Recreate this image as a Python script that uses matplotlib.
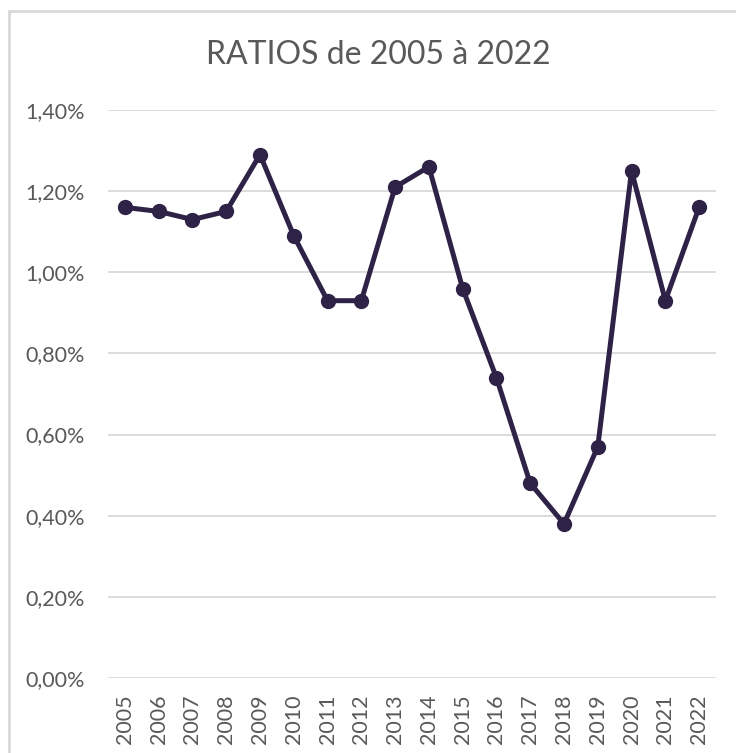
import matplotlib
matplotlib.use("Agg")
import matplotlib.pyplot as plt
from matplotlib.patches import Rectangle
from matplotlib.ticker import FuncFormatter, MultipleLocator

years = ["2005", "2006", "2007", "2008", "2009", "2010", "2011", "2012", "2013",
         "2014", "2015", "2016", "2017", "2018", "2019", "2020", "2021", "2022"]
ratios = [1.16, 1.15, 1.13, 1.15, 1.29, 1.09, 0.93, 0.93, 1.21,
          1.26, 0.96, 0.74, 0.48, 0.38, 0.57, 1.25, 0.93, 1.16]
title = "RATIOS de 2005 à 2022"

W, H = 736, 753
fig = plt.figure(figsize=(W / 100, H / 100), dpi=100)
plt.rcParams['font.family'] = ['Lato', 'DejaVu Sans']

# chart border
fig.patches.append(Rectangle((9 / W, -0.05), 1.1, 1 - 11 / H + 0.05,
                             transform=fig.transFigure, fill=False,
                             edgecolor="#d9d9d9", linewidth=2))

ax = fig.add_axes([108 / W, 1 - 678 / H, (716 - 108) / W, (678 - 110) / H])
x = list(range(len(years)))
ax.plot(x, ratios, color="#2e2347", linewidth=3.6, marker="o",
        markersize=10, solid_joinstyle="round", zorder=3)
ax.set_xlim(-0.5, len(years) - 0.5)
ax.set_ylim(0, 1.4)
ax.yaxis.set_major_locator(MultipleLocator(0.2))
ax.yaxis.set_major_formatter(FuncFormatter(lambda v, p: f"{v:.2f}%".replace(".", ",")))
ax.set_xticks(x)
ax.set_xticklabels(years, rotation=90)
ax.grid(axis="y", color="#d9d9d9", linewidth=1.3)
ax.set_axisbelow(True)
for s in ax.spines.values():
    s.set_visible(False)
ax.tick_params(axis="both", length=0, labelsize=15.5, colors="#595959")
ax.tick_params(axis="y", pad=16.5)
ax.tick_params(axis="x", pad=12)

fig.text(378 / W, 1 - 55 / H, title, ha="center", va="center",
         fontsize=23, color="#595959")

fig.savefig("out.png", dpi=100)
